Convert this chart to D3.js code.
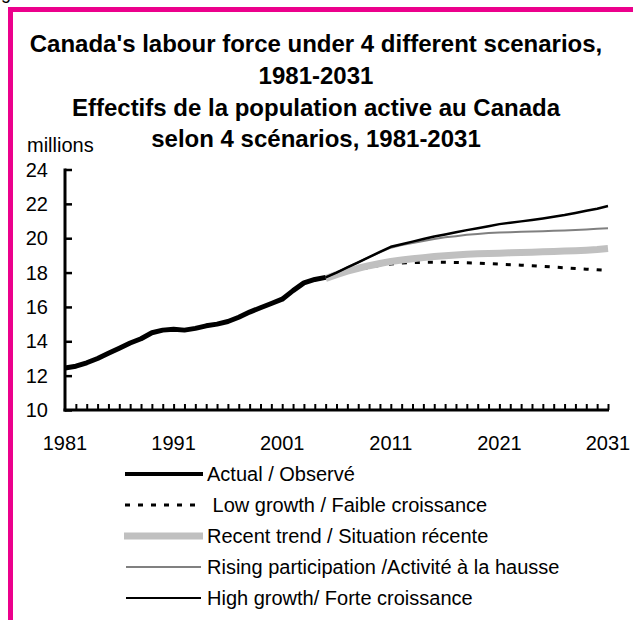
<!DOCTYPE html>
<html>
<head>
<meta charset="utf-8">
<script src="https://cdn.jsdelivr.net/npm/d3@7/dist/d3.min.js"></script>
<style>
  html, body { margin: 0; padding: 0; background: #fff; }
  svg { display: block; font-family: "Liberation Sans", Arial, Helvetica, sans-serif; }
</style>
</head>
<body>
<svg id="chart" width="633" height="620"></svg>
<script>
// ---------- data ----------
const titleLines = [
  "Canada's labour force under 4 different scenarios,",
  "1981-2031",
  "Effectifs de la population active au Canada",
  "selon 4 scénarios, 1981-2031"
];
const yAxisLabel = "millions";
const yTicks = [10, 12, 14, 16, 18, 20, 22, 24];
const xTickLabels = [1981, 1991, 2001, 2011, 2021, 2031];

const actualYears = d3.range(1981, 2006);
const actualValues = [12.45, 12.55, 12.75, 13.0, 13.3, 13.6, 13.9, 14.15, 14.5, 14.65,
  14.7, 14.65, 14.75, 14.9, 15.0, 15.15, 15.4, 15.7, 15.95, 16.2,
  16.45, 16.95, 17.4, 17.6, 17.72];

const projYears = d3.range(2005, 2032);
const lowGrowth = [17.65, 17.85, 18.03, 18.18, 18.31, 18.42, 18.5, 18.55, 18.58, 18.6,
  18.6, 18.6, 18.59, 18.57, 18.55, 18.52, 18.49, 18.46, 18.43, 18.4,
  18.36, 18.32, 18.28, 18.24, 18.2, 18.16, 18.12];
const recentTrend = [17.65, 17.88, 18.08, 18.25, 18.4, 18.53, 18.65, 18.73, 18.8, 18.87,
  18.93, 18.98, 19.02, 19.06, 19.09, 19.11, 19.13, 19.15, 19.17, 19.19,
  19.21, 19.23, 19.25, 19.27, 19.3, 19.34, 19.4];
const risingParticipation = [17.72, 18.0, 18.3, 18.6, 18.9, 19.18, 19.45, 19.6, 19.72, 19.84,
  19.95, 20.05, 20.12, 20.2, 20.25, 20.3, 20.33, 20.35, 20.37, 20.39,
  20.41, 20.43, 20.45, 20.48, 20.51, 20.55, 20.58];
const highGrowth = [17.72, 18.0, 18.3, 18.6, 18.9, 19.2, 19.5, 19.65, 19.8, 19.95,
  20.1, 20.22, 20.35, 20.47, 20.58, 20.7, 20.82, 20.9, 20.98, 21.06,
  21.15, 21.25, 21.35, 21.47, 21.6, 21.72, 21.87];

const legendLabels = [
  "Actual / Observé",
  " Low growth / Faible croissance",
  "Recent trend / Situation récente",
  "Rising participation /Activité à la hausse",
  "High growth/ Forte croissance"
];

// ---------- drawing ----------
const svg = d3.select("#chart");
svg.append("rect").attr("width", 633).attr("height", 620).attr("fill", "#fff");

const pink = "#EC008C";
// cut-off text at top-left (only its descender shows, as in the source)
svg.append("text").attr("x", 1).attr("y", -1).attr("font-size", 18).text("g");
// frame
svg.append("rect").attr("x", 8).attr("y", 7).attr("width", 625).attr("height", 5).attr("fill", pink);
svg.append("rect").attr("x", 8).attr("y", 7).attr("width", 5).attr("height", 613).attr("fill", pink);

// title
const titleBase = [52, 84, 116, 147];
svg.append("g").selectAll("text").data(titleLines).join("text")
  .attr("x", 316).attr("y", (d, i) => titleBase[i])
  .attr("text-anchor", "middle").attr("font-weight", "bold").attr("font-size", 24)
  .attr("fill", "#000").text(d => d);

const x = d3.scaleLinear().domain([1981, 2031]).range([65, 608]);
const y = d3.scaleLinear().domain([10, 24]).range([410, 169.5]);

// y axis label
svg.append("text").attr("x", 27).attr("y", 152).attr("font-size", 20).text(yAxisLabel);

// y axis
const yAxis = d3.axisRight(y).tickValues(yTicks).tickSize(7).tickFormat("");
const gy = svg.append("g").attr("transform", `translate(${x(1981)},0)`).call(yAxis);
gy.select(".domain").remove();
gy.selectAll(".tick line").attr("stroke", "#000").attr("stroke-width", 2.5);
svg.append("line").attr("x1", x(1981)).attr("x2", x(1981)).attr("y1", y(24) - 1).attr("y2", y(10) + 1.5)
  .attr("stroke", "#000").attr("stroke-width", 3);
svg.append("g").selectAll("text").data(yTicks).join("text")
  .attr("x", 48).attr("y", d => y(d)).attr("dy", "0.36em")
  .attr("text-anchor", "end").attr("font-size", 20).text(d => d);

// x axis
const xAxis = d3.axisTop(x).tickValues(d3.range(1982, 2032)).tickSize(6).tickFormat("");
const gx = svg.append("g").attr("transform", `translate(0,${y(10)})`).call(xAxis);
gx.select(".domain").remove();
gx.selectAll(".tick line").attr("stroke", "#000").attr("stroke-width", 2);
svg.append("line").attr("x1", x(1981) - 1.5).attr("x2", x(2031) + 1).attr("y1", y(10)).attr("y2", y(10))
  .attr("stroke", "#000").attr("stroke-width", 3);
svg.append("g").selectAll("text").data(xTickLabels).join("text")
  .attr("x", d => x(d)).attr("y", 450).attr("text-anchor", "middle").attr("font-size", 20).text(d => d);

// lines
const line = d3.line().x(d => x(d[0])).y(d => y(d[1]));
const zip = (xs, vs) => xs.map((t, i) => [t, vs[i]]);

const seriesStyles = [
  { data: zip(projYears, lowGrowth), stroke: "#000", width: 3, dash: "5,8" },
  { data: zip(projYears, recentTrend), stroke: "#C0C0C0", width: 7, dash: null },
  { data: zip(projYears, risingParticipation), stroke: "#808080", width: 2, dash: null },
  { data: zip(projYears, highGrowth), stroke: "#000", width: 2.5, dash: null },
  { data: zip(actualYears, actualValues), stroke: "#000", width: 5, dash: null }
];
seriesStyles.forEach(s => {
  svg.append("path").attr("d", line(s.data)).attr("fill", "none")
    .attr("stroke", s.stroke).attr("stroke-width", s.width)
    .attr("stroke-dasharray", s.dash).attr("stroke-linejoin", "round");
});

// legend
const legendY = [474, 505, 536, 567, 598];
const legendStyles = [
  { stroke: "#000", width: 4, dash: null, x1: 125, x2: 203 },
  { stroke: "#000", width: 3, dash: "5,8", x1: 125, x2: 195 },
  { stroke: "#C0C0C0", width: 7, dash: null, x1: 124, x2: 203 },
  { stroke: "#808080", width: 2, dash: null, x1: 126, x2: 201 },
  { stroke: "#000", width: 2, dash: null, x1: 126, x2: 201 }
];
const lg = svg.append("g");
legendLabels.forEach((lab, i) => {
  const st = legendStyles[i];
  lg.append("line").attr("x1", st.x1).attr("x2", st.x2).attr("y1", legendY[i]).attr("y2", legendY[i])
    .attr("stroke", st.stroke).attr("stroke-width", st.width).attr("stroke-dasharray", st.dash);
  lg.append("text").attr("x", 207).attr("y", legendY[i]).attr("dy", "0.36em")
    .attr("font-size", 20).style("white-space", "pre").text(lab);
});
</script>
</body>
</html>
